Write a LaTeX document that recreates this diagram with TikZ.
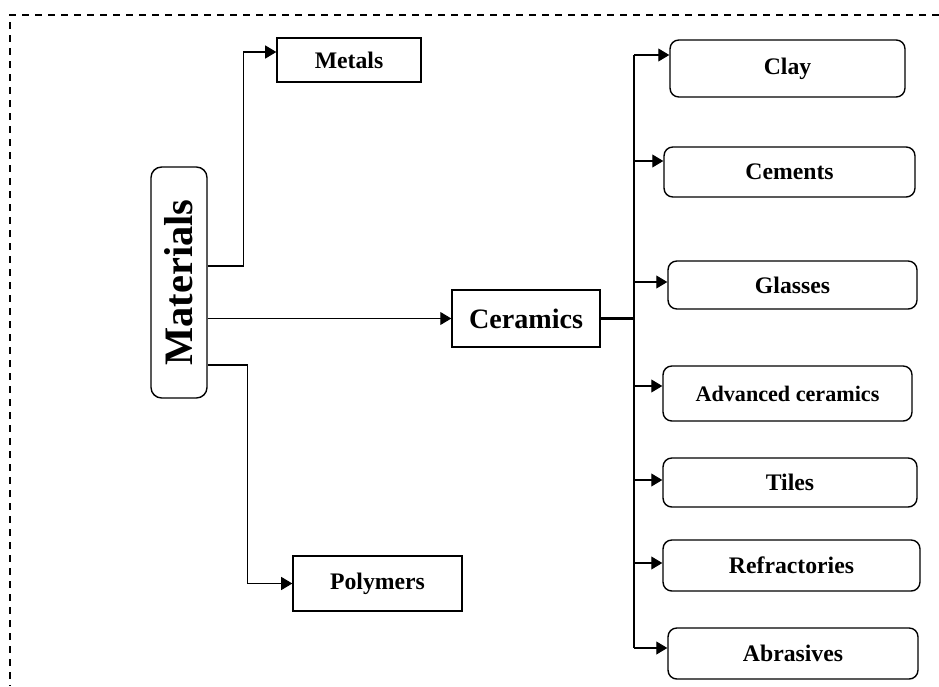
\documentclass[tikz,border=0pt]{standalone}
\usepackage{fontspec}
\setmainfont{Liberation Serif}
\usepackage{tikz}
\usetikzlibrary{arrows.meta, positioning, calc}

\tikzset{
  box/.style={draw, line width=0.8pt, inner sep=0pt, align=center,
    font=\bfseries\fontsize{13.5}{16}\selectfont},
  rbox/.style={box, rounded corners=5pt},
  arr/.style={-{Triangle[length=6.3pt,width=7.4pt]}, line width=0.6pt},
  frame/.style={line width=1pt, dash pattern=on 4pt off 3.4pt}
}

\begin{document}
\begin{tikzpicture}[x=0.02cm, y=-0.02cm]
\useasboundingbox (0,0) rectangle (939,686);

\draw[frame] (939,15) -- (10,15) -- (10,686);

\node[rbox, rounded corners=6pt, minimum width=1.12cm, minimum height=4.62cm,
  font=\bfseries\fontsize{23}{26}\selectfont] (mat) at (179,282.5) {\rotatebox{90}{Materials}};

\node[box, minimum width=2.88cm, minimum height=0.88cm] (met) at (349,60) {Metals};
\node[box, minimum width=3.38cm, minimum height=1.10cm] (pol) at (377.5,583.5) {Polymers};
\node[box, minimum width=2.96cm, minimum height=1.14cm,
  font=\bfseries\fontsize{16}{19}\selectfont] (cer) at (526,318.5) {Ceramics};

\node[rbox, minimum width=4.70cm, minimum height=1.14cm] (clay) at (787.5,68.5) {Clay};
\node[rbox, minimum width=5.02cm, minimum height=1.00cm] (cem) at (789.5,172) {Cements};
\node[rbox, minimum width=4.98cm, minimum height=0.96cm] (gla) at (792.5,285) {Glasses};
\node[rbox, minimum width=4.98cm, minimum height=1.10cm,
  font=\bfseries\fontsize{12.6}{15}\selectfont] (adv) at (787.5,393.5) {Advanced ceramics};
\node[rbox, minimum width=5.08cm, minimum height=0.98cm] (til) at (790,482.5) {Tiles};
\node[rbox, minimum width=5.14cm, minimum height=1.02cm] (ref) at (791.5,565.5) {Refractories};
\node[rbox, minimum width=5.00cm, minimum height=1.02cm] (abr) at (793,653.5) {Abrasives};

\draw[arr] ([yshift=0.33cm]mat.east) -- ++(36,0) |- ([yshift=0.16cm]met.west);
\draw[arr] (mat.east |- cer.west) -- (cer.west);
\draw[arr] ([yshift=-1.65cm]mat.east) -- ++(40,0) |- (pol.west);

\coordinate (c1) at (634,55);
\coordinate (c2) at (634,161);
\coordinate (c3) at (634,282);
\coordinate (c4) at (634,386);
\coordinate (c5) at (634,480);
\coordinate (c6) at (634,563);
\coordinate (c7) at (634,648);

\draw[line width=1.5pt] (cer.east) -- (cer.east -| c1);
\draw[line width=0.9pt] (c1) -- (c7);

\draw[arr] (c1) -- (c1 -| clay.west);
\draw[arr] (c2) -- (c2 -| cem.west);
\draw[arr] (c3) -- (c3 -| gla.west);
\draw[arr] (c4) -- (c4 -| adv.west);
\draw[arr] (c5) -- (c5 -| til.west);
\draw[arr] (c6) -- (c6 -| ref.west);
\draw[arr] (c7) -- (c7 -| abr.west);

\end{tikzpicture}
\end{document}
